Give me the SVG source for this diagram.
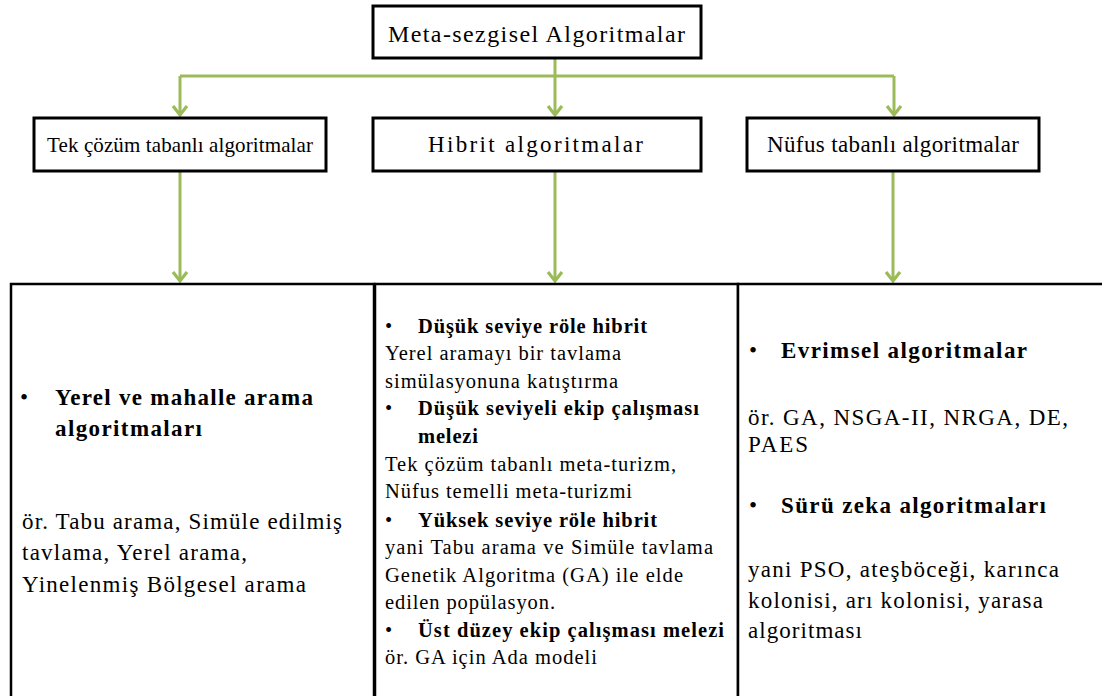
<svg xmlns="http://www.w3.org/2000/svg" width="1102" height="696" viewBox="0 0 1102 696">
  <style>
    .box { fill: #ffffff; stroke: #000000; stroke-width: 3; }
    .panel { fill: #ffffff; stroke: #000000; stroke-width: 2.5; }
    .link { fill: none; stroke: #9BBB59; stroke-width: 3; }
    text { font-family: "Liberation Serif", "Times New Roman", "DejaVu Serif", serif; fill: #000000; }
    .b { font-weight: bold; }
  </style>
  <defs>
    <marker id="chev" markerUnits="userSpaceOnUse" markerWidth="20" markerHeight="20" viewBox="-12 -10 14 20" refX="0" refY="0" orient="auto">
      <path d="M-9,-7 L0,0 L-9,7" fill="none" stroke="#9BBB59" stroke-width="3.2" stroke-linejoin="miter"/>
    </marker>
  </defs>

  <rect width="1102" height="696" fill="#ffffff"/>

  <!-- connectors -->
  <g id="connectors">
    <path class="link" d="M555,58 V76"/>
    <path class="link" d="M180,76 H894"/>
    <path class="link" d="M180,76 V115" marker-end="url(#chev)"/>
    <path class="link" d="M555,76 V115" marker-end="url(#chev)"/>
    <path class="link" d="M894,76 V115" marker-end="url(#chev)"/>
    <path class="link" d="M180,171 V281" marker-end="url(#chev)"/>
    <path class="link" d="M555,171 V281" marker-end="url(#chev)"/>
    <path class="link" d="M893,171 V281" marker-end="url(#chev)"/>
  </g>

  <!-- root -->
  <g id="root">
    <rect class="box" x="373" y="6" width="328" height="52"/>
    <text x="388" y="42" font-size="24" textLength="297">Meta-sezgisel Algoritmalar</text>
  </g>

  <!-- categories -->
  <g id="single">
    <rect class="box" x="34" y="118" width="292" height="53"/>
    <text x="47" y="152" font-size="21" textLength="266">Tek çözüm tabanlı algoritmalar</text>
  </g>
  <g id="hybrid">
    <rect class="box" x="373" y="118" width="328" height="53"/>
    <text x="428" y="152" font-size="23" textLength="215">Hibrit algoritmalar</text>
  </g>
  <g id="population">
    <rect class="box" x="747" y="118" width="292" height="53"/>
    <text x="767" y="152" font-size="23" textLength="252">Nüfus tabanlı algoritmalar</text>
  </g>

  <!-- detail panels -->
  <g id="single-detail">
    <rect class="panel" x="11" y="284" width="363" height="430"/>
    <text x="20" y="405" font-size="23">•</text>
    <text class="b" x="55" y="405" font-size="23" textLength="258">Yerel ve mahalle arama</text>
    <text class="b" x="55" y="436" font-size="23" textLength="147">algoritmaları</text>
    <text x="22" y="529" font-size="23" textLength="320">ör. Tabu arama, Simüle edilmiş</text>
    <text x="22" y="560" font-size="23" textLength="225">tavlama, Yerel arama,</text>
    <text x="22" y="592" font-size="23" textLength="284">Yinelenmiş Bölgesel arama</text>
  </g>

  <g id="hybrid-detail">
    <rect class="panel" x="375" y="284" width="363" height="430"/>
    <g font-size="20.5">
      <text x="385" y="333">•</text>
      <text class="b" x="418" y="333" textLength="229">Düşük seviye röle hibrit</text>
      <text x="385" y="360" textLength="236">Yerel aramayı bir tavlama</text>
      <text x="385" y="388" textLength="233">simülasyonuna katıştırma</text>
      <text x="385" y="415">•</text>
      <text class="b" x="418" y="415" textLength="281">Düşük seviyeli ekip çalışması</text>
      <text class="b" x="418" y="443" textLength="60">melezi</text>
      <text x="385" y="471" textLength="291">Tek çözüm tabanlı meta-turizm,</text>
      <text x="385" y="498" textLength="247">Nüfus temelli meta-turizmi</text>
      <text x="385" y="527">•</text>
      <text class="b" x="418" y="527" textLength="239">Yüksek seviye röle hibrit</text>
      <text x="385" y="554" textLength="328">yani Tabu arama ve Simüle tavlama</text>
      <text x="385" y="582" textLength="298">Genetik Algoritma (GA) ile elde</text>
      <text x="385" y="609" textLength="170">edilen popülasyon.</text>
      <text x="385" y="637">•</text>
      <text class="b" x="418" y="637" textLength="306">Üst düzey ekip çalışması melezi</text>
      <text x="385" y="664" textLength="212">ör. GA için Ada modeli</text>
    </g>
  </g>

  <g id="population-detail">
    <rect class="panel" x="738" y="284" width="380" height="430"/>
    <g font-size="23">
      <text x="749" y="358">•</text>
      <text class="b" x="781" y="358" textLength="246">Evrimsel algoritmalar</text>
      <text x="748" y="425" textLength="320">ör. GA, NSGA-II, NRGA, DE,</text>
      <text x="748" y="452" textLength="60">PAES</text>
      <text x="749" y="513">•</text>
      <text class="b" x="781" y="513" textLength="265">Sürü zeka algoritmaları</text>
      <text x="748" y="577" textLength="311">yani PSO, ateşböceği, karınca</text>
      <text x="748" y="608" textLength="295">kolonisi, arı kolonisi, yarasa</text>
      <text x="748" y="638" textLength="114">algoritması</text>
    </g>
  </g>
</svg>
